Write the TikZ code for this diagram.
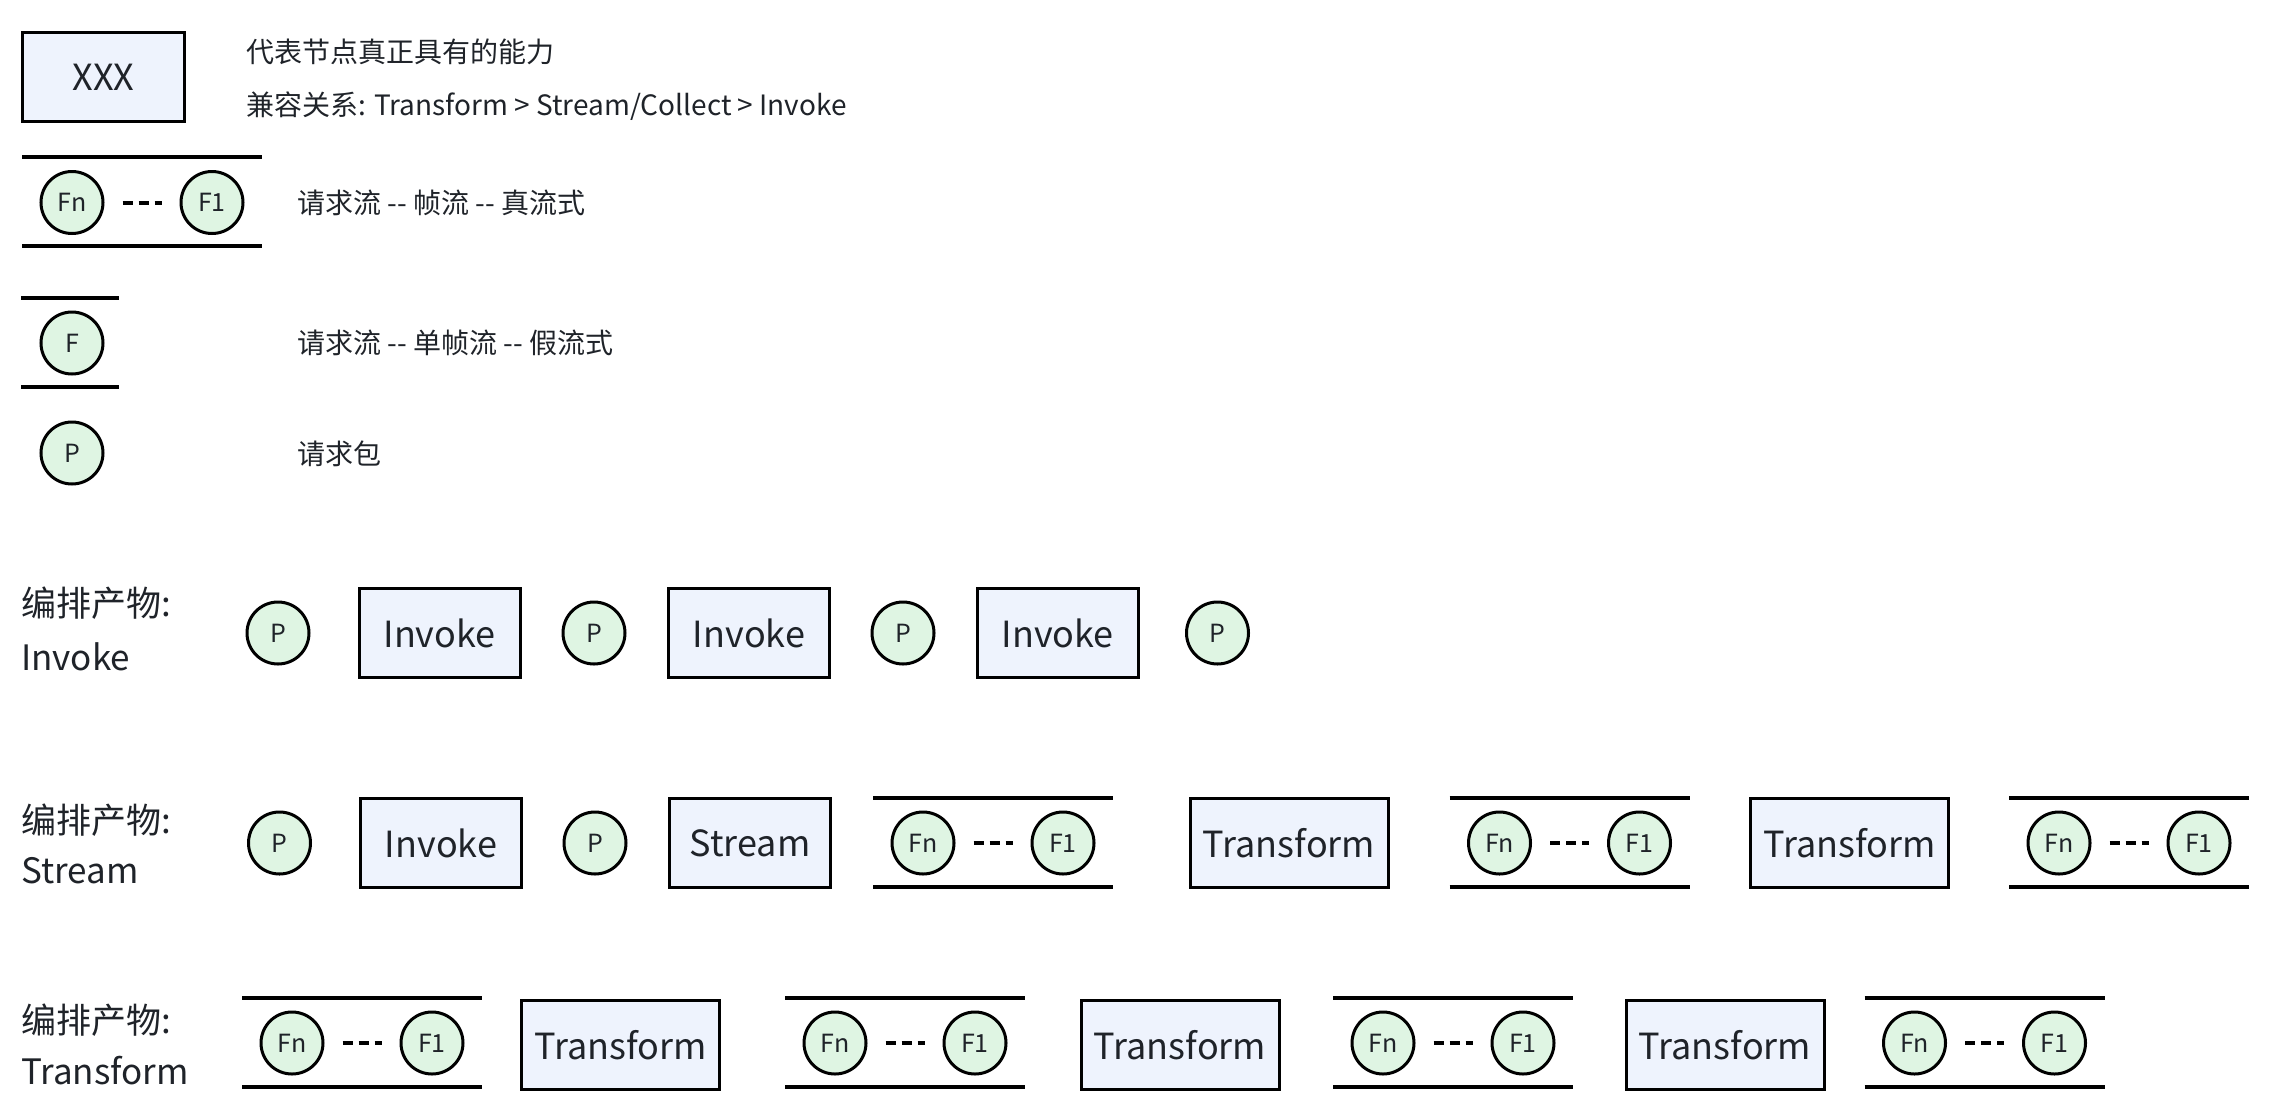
\documentclass[tikz,border=0pt]{standalone}
\usepackage{fontspec}
\usepackage{tikz}
\newfontfamily\cjk{Noto Sans CJK SC}
\definecolor{boxfill}{HTML}{EEF3FD}
\definecolor{framefill}{HTML}{DFF5E3}
\definecolor{ink}{HTML}{1F2329}
\tikzstyle{capbox}=[rectangle, draw, fill=boxfill, line width=3pt, minimum width=161pt, minimum height=89pt, text=ink, font=\cjk\fontsize{36}{40}\selectfont]
\tikzstyle{widebox}=[capbox, minimum width=198pt]
\tikzstyle{frame}=[circle, draw, fill=framefill, line width=3pt, minimum size=62pt, inner sep=0pt, text=ink, font=\cjk\fontsize{25}{28}\selectfont]
\tikzstyle{bar}=[line width=4pt]
\tikzstyle{gap}=[line width=4pt, dash pattern=on 10pt off 6pt, shorten <=18pt, shorten >=18pt]
\tikzstyle{note}=[anchor=west, inner sep=0pt, text=ink, font=\cjk\fontsize{28}{30}\selectfont]
\tikzstyle{rowlabel}=[anchor=west, inner sep=0pt, text=ink, font=\cjk\fontsize{35}{40}\selectfont]

\begin{document}
\begin{tikzpicture}[x=1pt, y=-1pt]
    \useasboundingbox (0,0) rectangle (2270,1109);
    % legend
    \node[capbox, minimum width=162pt] (xxx) at (103.5,77) {XXX};
    \node[note] (ability) at (246,52) {代表节点真正具有的能力};
    \node[note] (compat) at (246,106) {兼容关系: Transform > Stream/Collect > Invoke};
    \node[note] (truestream) at (297,203) {请求流 -{}- 帧流 -{}- 真流式};
    \draw[bar] (21,298) -- (119,298) (21,386.5) -- (119,386.5);
    \node[frame] (fsingle) at (72,343) {F};
    \node[note] (fakestream) at (297,343) {请求流 -{}- 单帧流 -{}- 假流式};
    \node[frame] (plegend) at (72,453) {P};
    \node[note] (packet) at (297,454) {请求包};
    % frame streams
    \foreach \g/\x/\y in {leg/142/201.5, sa/993/842, sb/1569.5/842, sc/2129/842,
                          ta/362/1042, tb/905/1042, tc/1453/1042, td/1984.5/1042} {
        \draw[bar] (\x-120,\y-44.5) -- (\x+120,\y-44.5) (\x-120,\y+44.5) -- (\x+120,\y+44.5);
        \node[frame] (fn\g) at (\x-70,\y+1) {Fn};
        \node[frame] (fone\g) at (\x+70,\y+1) {F1};
        \draw[gap] (fn\g) -- (fone\g);
    }
    % invoke row
    \node[rowlabel] (invokehead) at (21,603) {编排产物:};
    \node[rowlabel] (invoketail) at (21,657) {Invoke};
    \node[frame] (pa) at (278,633) {P};
    \node[capbox] (ia) at (439.5,633) {Invoke};
    \node[frame] (pb) at (594,633) {P};
    \node[capbox] (ib) at (749,633) {Invoke};
    \node[frame] (pc) at (903,633) {P};
    \node[capbox] (ic) at (1057.5,633) {Invoke};
    \node[frame] (pd) at (1217.5,633) {P};
    % stream row
    \node[rowlabel] (streamhead) at (21,820) {编排产物:};
    \node[rowlabel] (streamtail) at (21,871) {Stream};
    \node[frame] (pe) at (279.5,843) {P};
    \node[capbox] (id) at (441,843) {Invoke};
    \node[frame] (pf) at (595,843) {P};
    \node[capbox] (sa) at (750,843) {Stream};
    \node[widebox] (tra) at (1289,843) {Transform};
    \node[widebox] (trb) at (1849.5,843) {Transform};
    % transform row
    \node[rowlabel] (transhead) at (21,1020) {编排产物:};
    \node[rowlabel] (transtail) at (21,1071) {Transform};
    \node[widebox] (trc) at (620.5,1045) {Transform};
    \node[widebox] (trd) at (1180,1045) {Transform};
    \node[widebox] (tre) at (1725,1045) {Transform};
\end{tikzpicture}
\end{document}
